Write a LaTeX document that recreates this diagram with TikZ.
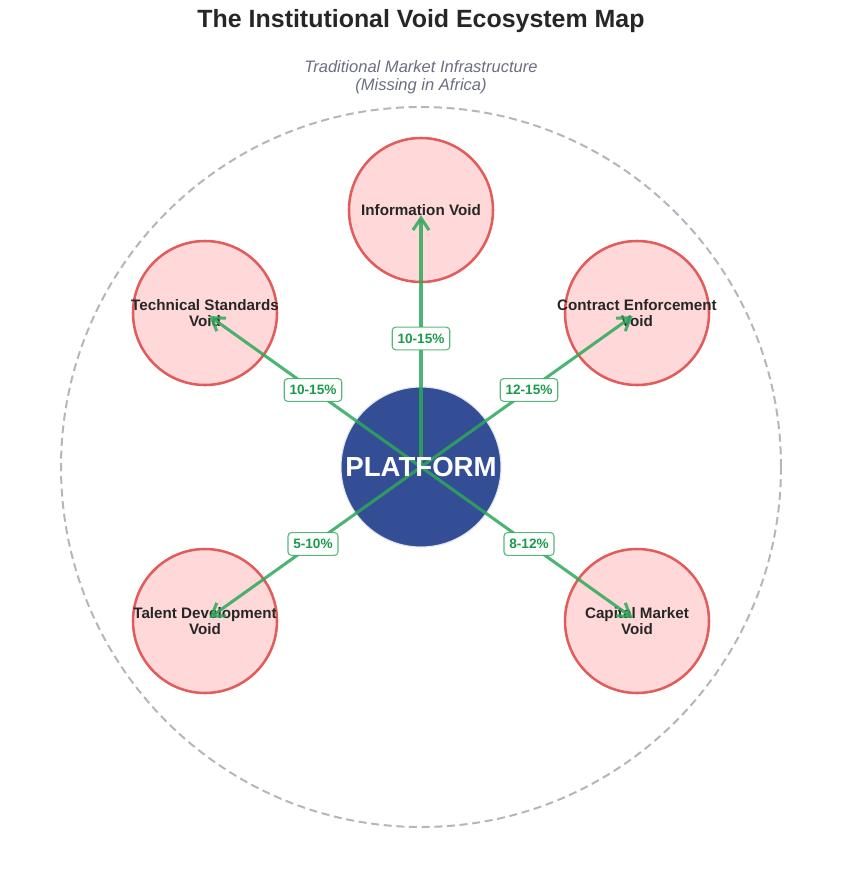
\documentclass[tikz,border=0pt]{standalone}
\usepackage{fontspec}
\setmainfont{Liberation Sans}
\usetikzlibrary{arrows.meta}
\definecolor{voidfill}{HTML}{FFD9D9}
\definecolor{voidline}{HTML}{E25C5C}
\definecolor{platblue}{HTML}{344E96}
\definecolor{gapgreen}{HTML}{2EA85A}
\definecolor{labgreen}{HTML}{1A9A4A}
\definecolor{ringgray}{HTML}{B5B5BF}
\definecolor{subgray}{HTML}{6B6E80}
\tikzset{
  void/.style={circle,draw=voidline,fill=voidfill,line width=1.9pt,
    minimum size=108pt,inner sep=0pt},
  voidtext/.style={align=center,text=black!85,inner sep=0pt,
    font=\bfseries\fontsize{11.4}{12}\selectfont},
  ring/.style={circle,draw=ringgray,dash pattern=on 6pt off 3.5pt,
    line width=1.5pt,minimum size=540pt},
  plat/.style={circle,fill=platblue,draw=platblue!15,line width=0.8pt,
    minimum size=120pt},
  gap/.style={draw=gapgreen,draw opacity=0.85,line width=2.3pt,
    -{Straight Barb[length=9pt,width=12pt]},shorten >=4pt},
  pct/.style={draw=labgreen!85,fill=white,rounded corners=2.5pt,
    text=labgreen,font=\bfseries\fontsize{10.2}{12}\selectfont,
    inner xsep=4pt,minimum height=17pt,line width=0.8pt}
}
\begin{document}
\begin{tikzpicture}[x=0.75pt,y=-0.75pt]
\useasboundingbox (0,0) rectangle (843,889);
% title and frame
\node[font=\bfseries\fontsize{18.7}{22}\selectfont,text=black!85] (title) at (421,21) {The Institutional Void Ecosystem Map};
\node[font=\itshape\fontsize{12.4}{13.5}\selectfont,text=subgray,align=center] (sub) at (421,77) {Traditional Market Infrastructure\\(Missing in Africa)};
\node[ring] (outer) at (421,467) {};
% the five voids
\node[void,label={[voidtext]center:Information Void}] (info) at (421,210) {};
\node[void,label={[voidtext]center:Technical Standards\\Void}] (tech) at (205,313) {};
\node[void,label={[voidtext]center:Contract Enforcement\\Void}] (contract) at (637,313) {};
\node[void,label={[voidtext]center:Talent Development\\Void}] (talent) at (205,621) {};
\node[void,label={[voidtext]center:Capital Market\\Void}] (capital) at (637,621) {};
% platform in the middle
\node[plat] (plat) at (421,467) {};
\draw[gap] (plat.center) -- (info.center) node[pct,midway] (l1) {10-15\%};
\draw[gap] (plat.center) -- (tech.center) node[pct,midway] (l2) {10-15\%};
\draw[gap] (plat.center) -- (contract.center) node[pct,midway] (l3) {12-15\%};
\draw[gap] (plat.center) -- (talent.center) node[pct,midway] (l4) {5-10\%};
\draw[gap] (plat.center) -- (capital.center) node[pct,midway] (l5) {8-12\%};
\node[text=white,font=\bfseries\fontsize{20.7}{24}\selectfont] (platlabel) at (plat) {PLATFORM};
\end{tikzpicture}
\end{document}
